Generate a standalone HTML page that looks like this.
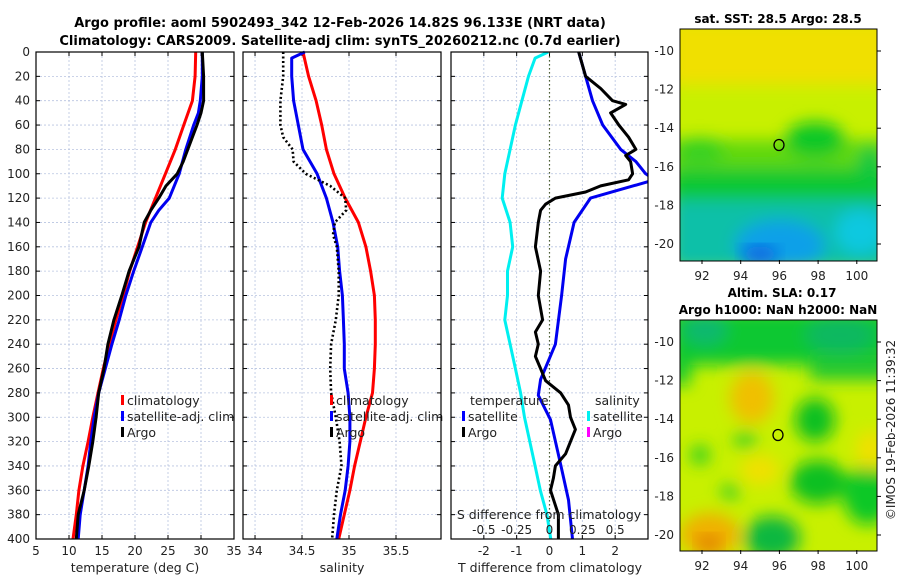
<!DOCTYPE html>
<html><head><meta charset="utf-8"><style>
body{margin:0;background:#fff;}
svg{display:block;font-family:"DejaVu Sans","Liberation Sans",sans-serif;}
</style></head><body>
<svg id="c" width="900" height="580" xmlns="http://www.w3.org/2000/svg">
<defs>
<filter id="bl" x="-20%" y="-20%" width="140%" height="140%"><feGaussianBlur stdDeviation="8"/></filter>
<clipPath id="m1c"><rect x="680" y="29" width="197" height="232"/></clipPath>
<clipPath id="m2c"><rect x="680" y="320" width="197" height="231"/></clipPath>
</defs>
<text x="340" y="27" text-anchor="middle" font-size="13" font-weight="bold">Argo profile: aoml 5902493_342 12-Feb-2026 14.82S 96.133E (NRT data)</text>
<text x="340" y="45" text-anchor="middle" font-size="13" font-weight="bold">Climatology: CARS2009. Satellite-adj clim: synTS_20260212.nc (0.7d earlier)</text>
<g id="plots"></g>
<!-- map 1 -->
<g>
<text x="778" y="23" text-anchor="middle" font-size="12" font-weight="bold">sat. SST: 28.5 Argo: 28.5</text>
<g clip-path="url(#m1c)">
<rect x="680" y="29" width="197" height="232" fill="#c8f000"/>
<g filter="url(#bl)">
<rect x="670" y="20" width="220" height="65" fill="#f0e000"/>
<rect x="670" y="140" width="220" height="40" fill="#60d810"/>
<ellipse cx="815" cy="140" rx="30" ry="18" fill="#10c828"/>
<ellipse cx="700" cy="150" rx="25" ry="12" fill="#30d020"/>
<rect x="670" y="168" width="220" height="35" fill="#10c830"/>
<rect x="670" y="200" width="220" height="70" fill="#10c0a8"/>
<ellipse cx="780" cy="245" rx="45" ry="25" fill="#10a0e8"/>
<ellipse cx="860" cy="232" rx="25" ry="22" fill="#10c8e0"/>
<ellipse cx="870" cy="165" rx="12" ry="20" fill="#10c840"/>
</g>
<ellipse cx="760" cy="254" rx="18" ry="8" fill="#1060e0" filter="url(#bl)"/>
</g>
<rect x="680" y="29" width="197" height="232" fill="none" stroke="#000" stroke-width="1"/>
<ellipse cx="779" cy="145" rx="5" ry="5.5" fill="none" stroke="#000" stroke-width="1.3"/>
<g id="m1ax" font-size="12" fill="#222"></g>
</g>
<text x="782" y="297" text-anchor="middle" font-size="12" font-weight="bold">Altim. SLA: 0.17</text>
<g>
<text x="778" y="314" text-anchor="middle" font-size="12" font-weight="bold">Argo h1000: NaN h2000: NaN</text>
<g clip-path="url(#m2c)">
<rect x="680" y="320" width="197" height="231" fill="#c8f000"/>
<g filter="url(#bl)">
<rect x="670" y="310" width="220" height="55" fill="#10c830"/>
<rect x="670" y="360" width="20" height="25" fill="#10c830"/>
<rect x="810" y="355" width="80" height="25" fill="#20c830"/>
<ellipse cx="705" cy="330" rx="22" ry="15" fill="#10b870"/>
<ellipse cx="840" cy="335" rx="35" ry="18" fill="#10b860"/>
<ellipse cx="752" cy="398" rx="22" ry="26" fill="#f0c000"/>
<ellipse cx="815" cy="420" rx="20" ry="22" fill="#10c020"/>
<ellipse cx="818" cy="482" rx="28" ry="22" fill="#10c020"/>
<ellipse cx="868" cy="495" rx="25" ry="30" fill="#10c828"/>
<ellipse cx="772" cy="538" rx="28" ry="22" fill="#10b840"/>
<ellipse cx="710" cy="535" rx="30" ry="22" fill="#f0b000"/>
<ellipse cx="700" cy="455" rx="10" ry="10" fill="#30d020"/>
<ellipse cx="745" cy="440" rx="12" ry="8" fill="#40d020"/>
<ellipse cx="730" cy="492" rx="10" ry="8" fill="#40d020"/>
<ellipse cx="870" cy="450" rx="14" ry="20" fill="#f0e000"/>
<ellipse cx="760" cy="470" rx="20" ry="15" fill="#f0e000"/>
</g>
<ellipse cx="709" cy="543" rx="12" ry="8" fill="#e08000" filter="url(#bl)"/>
</g>
<rect x="680" y="320" width="197" height="231" fill="none" stroke="#000" stroke-width="1"/>
<ellipse cx="778" cy="435" rx="5" ry="5.5" fill="none" stroke="#000" stroke-width="1.3"/>
<g id="m2ax" font-size="12" fill="#222"></g>
</g>
<text transform="translate(895,430) rotate(-90)" text-anchor="middle" font-size="12" fill="#222">©IMOS 19-Feb-2026 11:39:32</text>
</svg>
<script>
// ---- data ----
const depths = [0,20,40,60,80,100,120,140,160,180,200,220,240,260,280,300,320,340,360,380,400];
const tempClim = [29.2,29.1,28.7,27.4,26.1,24.6,23.1,21.6,20.4,19.2,18.2,17.1,16.1,15.2,14.4,13.6,12.9,12.1,11.5,11.1,10.6];
const tempSatDepth = [0,20,40,50,60,80,100,120,130,140,160,180,200,220,240,260,280,300,320,340,360,380,400];
const tempSat = [30.2,30.2,29.9,29.6,28.9,27.7,26.7,25.2,23.6,22.4,21.1,19.8,18.6,17.6,16.5,15.5,14.5,13.8,13.3,12.9,12.3,11.7,11.4];
const tempArgoDepth = [0,20,40,50,60,80,90,100,110,120,130,140,160,180,200,220,240,260,280,300,320,340,360,380,400];
const tempArgo = [30.2,30.4,30.4,30.0,29.4,28.0,27.3,26.4,24.7,23.6,22.4,21.4,20.6,19.1,18.0,16.8,15.9,15.3,14.5,14.1,13.6,13.0,12.3,11.4,11.1];
const salClim = [34.51,34.57,34.65,34.71,34.76,34.84,34.96,35.10,35.18,35.23,35.27,35.28,35.28,35.27,35.25,35.18,35.12,35.06,35.01,34.95,34.89];
const salSatDepth = [0,5,20,40,60,80,100,120,140,160,180,200,220,240,260,280,300,320,340,360,380,400];
const salSat = [34.53,34.39,34.39,34.41,34.46,34.51,34.66,34.76,34.83,34.88,34.90,34.93,34.94,34.95,34.95,34.99,35.01,35.01,34.99,34.96,34.91,34.87];
const salArgoDepth = [0,20,40,60,70,80,90,100,110,120,130,140,150,160,180,200,220,240,260,280,300,320,340,360,380,400];
const salArgo = [34.30,34.30,34.27,34.27,34.30,34.40,34.41,34.54,34.80,34.96,34.97,34.85,34.83,34.87,34.89,34.89,34.86,34.81,34.80,34.81,34.86,34.90,34.92,34.87,34.84,34.82];
const dTSatDepth = [0,20,40,60,80,90,100,105,120,140,170,200,240,269,282,302,339,368,400];
const dTSat = [0.89,1.10,1.31,1.62,2.17,2.63,2.93,3.2,1.25,0.75,0.49,0.37,0.18,-0.27,-0.34,0.03,0.34,0.58,0.70];
const dTArgoDepth = [0,20,30,40,43,50,60,70,80,85,90,100,105,110,115,120,125,130,140,160,180,200,220,230,240,250,260,270,280,290,300,310,320,330,340,350,360,380,400];
const dTArgo = [0.89,1.10,1.56,1.92,2.32,1.86,2.11,2.41,2.63,2.32,2.47,2.53,2.41,1.56,1.10,0.18,-0.12,-0.27,-0.34,-0.43,-0.27,-0.34,-0.21,-0.43,-0.34,-0.43,-0.27,-0.12,0.34,0.58,0.64,0.79,0.64,0.49,0.18,0.12,0.03,0.27,0.27];
const dSSatDepth = [0,5,20,40,60,80,100,120,140,160,180,200,220,240,260,280,300,320,340,360,380,400];
const dSSat = [-0.01,-0.11,-0.16,-0.21,-0.26,-0.30,-0.34,-0.36,-0.30,-0.28,-0.32,-0.32,-0.34,-0.30,-0.26,-0.22,-0.19,-0.15,-0.11,-0.07,-0.02,0.01];
const depthTicks = [0,20,40,60,80,100,120,140,160,180,200,220,240,260,280,300,320,340,360,380,400];
const tTicks = [5,10,15,20,25,30,35];
const sTicks = [34,34.5,35,35.5];
const dTTicks = [-2,-1,0,1,2];
const dSTicks = [-0.5,-0.25,0,0.25,0.5];
const lonTicks = [92,94,96,98,100];
const latTicks = [-10,-12,-14,-16,-18,-20];

const NS='http://www.w3.org/2000/svg';
const svg=document.getElementById('plots');
function el(tag,attrs,parent){const e=document.createElementNS(NS,tag);for(const k in attrs)e.setAttribute(k,attrs[k]);(parent||svg).appendChild(e);return e;}
const Y0=52,Y1=539;
const yD=d=>Y0+(Y1-Y0)*d/400;
function panel(x0,x1,xmin,xmax,ticks,name){
  const g=el('g',{});
  
  
  const sx=v=>x0+(x1-x0)*(v-xmin)/(xmax-xmin);
  depthTicks.forEach(d=>{if(d>0&&d<400)el('line',{x1:x0,x2:x1,y1:yD(d),y2:yD(d),stroke:'#b8c4e0','stroke-width':0.8,'stroke-dasharray':'2,2'},g);
    el('line',{x1:x0,x2:x0+4,y1:yD(d),y2:yD(d),stroke:'#000'},g);el('line',{x1:x1-4,x2:x1,y1:yD(d),y2:yD(d),stroke:'#000'},g);});
  ticks.forEach(t=>{const x=sx(t);if(x>x0+1&&x<x1-1)el('line',{x1:x,x2:x,y1:Y0,y2:Y1,stroke:'#b8c4e0','stroke-width':0.8,'stroke-dasharray':'2,2'},g);
    el('line',{x1:x,x2:x,y1:Y1-4,y2:Y1,stroke:'#000'},g);el('line',{x1:x,x2:x,y1:Y0,y2:Y0+4,stroke:'#000'},g);});
  return {g,sx};
}
function line(p,ds,vs,color,name,dash,sxf){
  const sx=sxf||p.sx;
  const pts=ds.map((d,i)=>sx(vs[i]).toFixed(1)+','+yD(d).toFixed(1)).join(' ');
  const l=el('polyline',{points:pts,fill:'none',stroke:color,'stroke-width':3,'stroke-linejoin':'round'},p.g);
  if(dash){l.setAttribute('stroke-dasharray','2,2.5');l.setAttribute('stroke-width','2.6');}
  
  
  return l;
}
function frame(p,x0,x1){el('rect',{x:x0,y:Y0,width:x1-x0,height:Y1-Y0,fill:'none',stroke:'#000','stroke-width':1.2},p.g);}
function txt(s,x,y,opts,parent){const t=el('text',Object.assign({x:x,y:y,'font-size':12,fill:'#222'},opts||{}),parent);t.textContent=s;return t;}
function legend(p,x,y,items){items.forEach((it,i)=>{el('rect',{x:x,y:y+i*16-10,width:3,height:10,fill:it[1]},p.g);const t=txt(it[0],x+6,y+i*16,{'font-size':12.5},p.g);});}

// Panel 1 temperature
const p1=panel(36,234,5,35,tTicks,'temperature-panel');
depthTicks.forEach(d=>{txt(String(d),30,yD(d)+4,{'text-anchor':'end'},p1.g);});
tTicks.forEach(t=>txt(String(t),p1.sx(t),555,{'text-anchor':'middle'},p1.g));
txt('temperature (deg C)',135,572,{'text-anchor':'middle','font-size':12.5},p1.g);
line(p1,depths,tempClim,'#f00','temperature-climatology-line');
line(p1,tempSatDepth,tempSat,'#0000f0','temperature-satellite-line');
line(p1,tempArgoDepth,tempArgo,'#000','temperature-argo-line');
legend(p1,121,405,[['climatology','#f00'],['satellite-adj. clim','#00f'],['Argo','#000']]);
frame(p1,36,234);

// Panel 2 salinity
const p2=panel(243,441,33.872,35.979,sTicks,'salinity-panel');
sTicks.forEach(t=>txt(String(t),p2.sx(t),555,{'text-anchor':'middle'},p2.g));
txt('salinity',342,572,{'text-anchor':'middle','font-size':12.5},p2.g);
line(p2,depths,salClim,'#f00','salinity-climatology-line');
line(p2,salSatDepth,salSat,'#0000f0','salinity-satellite-line');
line(p2,salArgoDepth,salArgo,'#000','salinity-argo-line',true);
legend(p2,330,405,[['climatology','#f00'],['satellite-adj. clim','#00f'],['Argo','#000']]);
frame(p2,243,441);

// Panel 3 differences
const p3=panel(451,648,-3.0,3.0,dTTicks,'difference-panel');
const sxS=v=>p3.sx(v*4);
el('line',{x1:p3.sx(0),x2:p3.sx(0),y1:Y0,y2:Y1,stroke:'#506030','stroke-width':1.2,'stroke-dasharray':'1.5,2.5'},p3.g);
dTTicks.forEach(t=>txt(String(t),p3.sx(t),555,{'text-anchor':'middle'},p3.g));
txt('T difference from climatology',550,572,{'text-anchor':'middle','font-size':12.5},p3.g);
const cp=el('clipPath',{id:'p3c'},p3.g);el('rect',{x:451,y:Y0,width:197,height:Y1-Y0},cp);
const lg=el('g',{'clip-path':'url(#p3c)'},p3.g);
const p3c={g:lg,sx:p3.sx};
line(p3c,dSSatDepth,dSSat,'#00f0f0','salinity-diff-satellite-line',false,sxS);
line(p3c,dTSatDepth,dTSat,'#0000f0','temperature-diff-satellite-line');
line(p3c,dTArgoDepth,dTArgo,'#000','temperature-diff-argo-line');
txt('temperature',470,405,{'font-size':12.5},p3.g);
txt('salinity',595,405,{'font-size':12.5},p3.g);
legend(p3,462,421,[['satellite','#00f'],['Argo','#000']]);
legend(p3,587,421,[['satellite','#00f0f0'],['Argo','#f0f']]);
txt('S difference from climatology',549,519,{'text-anchor':'middle','font-size':12.5},p3.g);
dSTicks.forEach(t=>txt(String(t),sxS(t),534,{'text-anchor':'middle'},p3.g));
frame(p3,451,648);

// map axes
function mapAxes(id,yTop,yBot,yLbl){
  const g=document.getElementById(id);
  const sx=v=>702+(v-92)*19.35;
  const sy=v=>yTop+(yBot-yTop)*(v+10)/(-10);
  lonTicks.forEach(v=>{el('line',{x1:sx(v),x2:sx(v),y1:yLbl-16,y2:yLbl-20,stroke:'#000'},g);txt(String(v),sx(v),yLbl,{'text-anchor':'middle'},g);});
  latTicks.forEach(v=>{el('line',{x1:877,x2:881,y1:sy(v),y2:sy(v),stroke:'#000'},g);txt(String(v),674,sy(v)+4,{'text-anchor':'end'},g);});
}
mapAxes('m1ax',51,244,280);
mapAxes('m2ax',342,535,570);
</script>
</body></html>
